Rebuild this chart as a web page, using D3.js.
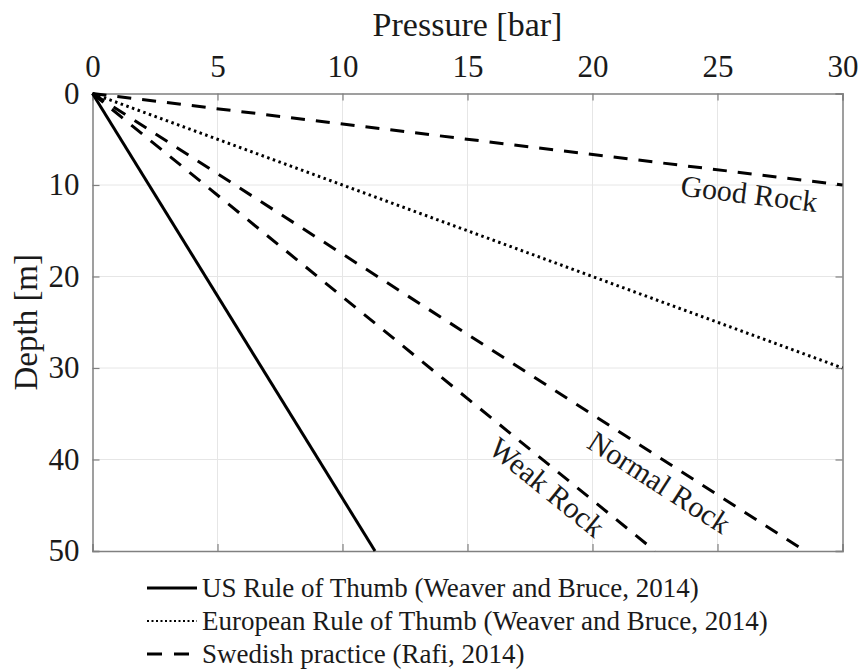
<!DOCTYPE html>
<html>
<head>
<meta charset="utf-8">
<script src="https://cdn.jsdelivr.net/npm/d3@7"></script>
<style>
  body { margin: 0; background: #fff; }
  text { font-family: "Liberation Serif", "Times New Roman", serif; fill: #1a1a1a; }
</style>
</head>
<body>
<div id="chart"></div>
<script>
// data
const xTicks = [0, 5, 10, 15, 20, 25, 30]; // pressure [bar]
const yTicks = [0, 10, 20, 30, 40, 50]; // depth [m]

const usPressure = [0, 11.3]; // US rule of thumb
const usDepth = [0, 50];
const euPressure = [0, 30]; // European rule of thumb
const euDepth = [0, 30];
const goodPressure = [0, 30]; // Swedish, good rock
const goodDepth = [0, 10];
const normalPressure = [0, 28.5]; // Swedish, normal rock
const normalDepth = [0, 50];
const weakPressure = [0, 22.5]; // Swedish, weak rock
const weakDepth = [0, 50];

const legendLabels = [
  "US Rule of Thumb (Weaver and Bruce, 2014)",
  "European Rule of Thumb (Weaver and Bruce, 2014)",
  "Swedish practice (Rafi, 2014)"
];
const rockLabels = ["Good Rock", "Normal Rock", "Weak Rock"];

const W = 861, H = 671;
const m = { left: 92.5, right: 18.5, top: 93.5, bottom: 120 };

const svg = d3.select("#chart").append("svg")
  .attr("width", W)
  .attr("height", H);

const x = d3.scaleLinear().domain([0, 30]).range([m.left, W - m.right]);
const y = d3.scaleLinear().domain([0, 50]).range([m.top, H - m.bottom]);

// grid
svg.append("g").selectAll("line").data(xTicks.slice(1, -1)).join("line")
  .attr("x1", d => x(d)).attr("x2", d => x(d))
  .attr("y1", y(0)).attr("y2", y(50))
  .attr("stroke", "#e6e6e6").attr("stroke-width", 1);
svg.append("g").selectAll("line").data(yTicks.slice(1, -1)).join("line")
  .attr("x1", x(0)).attr("x2", x(30))
  .attr("y1", d => y(d)).attr("y2", d => y(d))
  .attr("stroke", "#e6e6e6").attr("stroke-width", 1);

// axes (matlab style, ticks pointing in)
const axisColor = "#808080";
const gTop = svg.append("g").attr("transform", `translate(0,${y(0)})`)
  .call(d3.axisTop(x).tickValues(xTicks).tickSize(-7).tickPadding(17).tickFormat(d3.format("d")));
const gBottom = svg.append("g").attr("transform", `translate(0,${y(50)})`)
  .call(d3.axisBottom(x).tickValues(xTicks).tickSize(-7).tickFormat(""));
const gLeft = svg.append("g").attr("transform", `translate(${x(0)},0)`)
  .call(d3.axisLeft(y).tickValues(yTicks).tickSize(-7).tickPadding(13).tickFormat(d3.format("d")));
const gRight = svg.append("g").attr("transform", `translate(${x(30)},0)`)
  .call(d3.axisRight(y).tickValues(yTicks).tickSize(-7).tickFormat(""));

[gTop, gBottom, gLeft, gRight].forEach(g => {
  g.attr("font-family", null).attr("font-size", null);
  g.select(".domain").attr("stroke", axisColor).attr("stroke-width", 1.5);
  g.selectAll(".tick line").attr("stroke", axisColor).attr("stroke-width", 1.2);
  g.selectAll("text")
    .style("font-size", "31px")
    .attr("fill", "#1a1a1a");
});

// axis titles
svg.append("text")
  .attr("x", (x(0) + x(30)) / 2)
  .attr("y", 36)
  .attr("text-anchor", "middle")
  .style("font-size", "34px")
  .text("Pressure [bar]");

svg.append("text")
  .attr("transform", `translate(37,${(y(0) + y(50)) / 2}) rotate(-90)`)
  .attr("text-anchor", "middle")
  .style("font-size", "33px")
  .text("Depth [m]");

// lines
const line = d3.line().x(d => x(d[0])).y(d => y(d[1]));
const zip = (p, dep) => p.map((v, i) => [v, dep[i]]);

const styles = {
  solid: null,
  dotted: "2.5,3.5",
  dashed: "14,11"
};

const plotG = svg.append("g");
function drawLine(p, dep, dash) {
  plotG.append("path")
    .datum(zip(p, dep))
    .attr("fill", "none")
    .attr("stroke", "#000")
    .attr("stroke-width", 3)
    .attr("stroke-dasharray", dash)
    .attr("d", line);
}
drawLine(usPressure, usDepth, styles.solid);
drawLine(euPressure, euDepth, styles.dotted);
drawLine(goodPressure, goodDepth, styles.dashed);
drawLine(normalPressure, normalDepth, styles.dashed);
drawLine(weakPressure, weakDepth, styles.dashed);

// rock labels, rotated along their line
const angle = (p, dep) => Math.atan2(y(dep[1]) - y(dep[0]), x(p[1]) - x(p[0])) * 180 / Math.PI;
const labelPos = [
  { p: 26.25, d: 11.3, ang: angle(goodPressure, goodDepth) },
  { p: 22.6, d: 42.8, ang: angle(normalPressure, normalDepth) },
  { p: 18.1, d: 43.3, ang: angle(weakPressure, weakDepth) }
];
svg.append("g").selectAll("text").data(rockLabels).join("text")
  .attr("transform", (d, i) => `translate(${x(labelPos[i].p)},${y(labelPos[i].d)}) rotate(${labelPos[i].ang})`)
  .attr("text-anchor", "middle")
  .attr("dominant-baseline", "middle")
  .style("font-size", "30px")
  .text(d => d);

// legend
const legendDash = [styles.solid, "2,2.5", "15,12"];
const leg = svg.append("g").attr("transform", "translate(147,588)");
leg.selectAll("line").data(legendLabels).join("line")
  .attr("x1", 0).attr("x2", 50)
  .attr("y1", (d, i) => i * 33).attr("y2", (d, i) => i * 33)
  .attr("stroke", "#000")
  .attr("stroke-width", (d, i) => i === 1 ? 2 : 3)
  .attr("stroke-dasharray", (d, i) => legendDash[i]);
leg.selectAll("text").data(legendLabels).join("text")
  .attr("x", 55)
  .attr("y", (d, i) => i * 33 + 9)
  .style("font-size", "27px")
  .text(d => d);
</script>
</body>
</html>
